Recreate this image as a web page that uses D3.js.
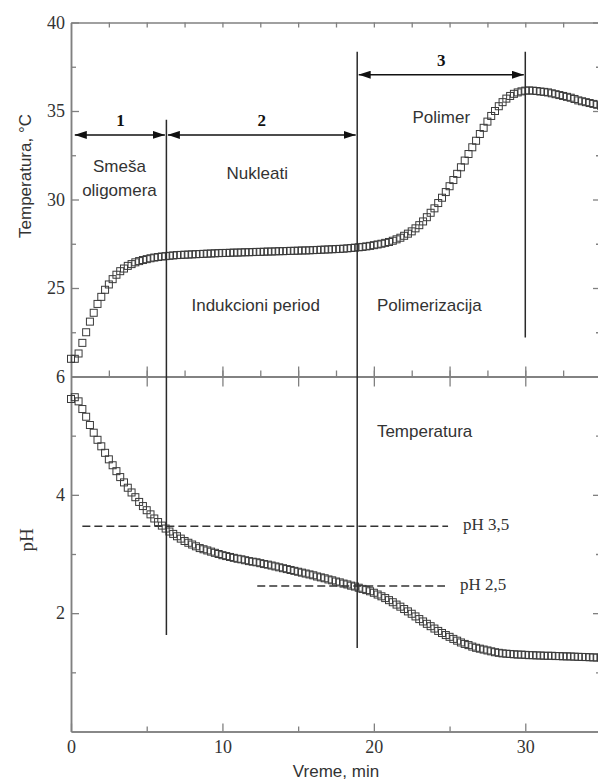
<!DOCTYPE html>
<html><head><meta charset="utf-8">
<script src="https://cdn.jsdelivr.net/npm/d3@7"></script>
<style>body{margin:0;background:#fff}</style>
</head><body><svg id="c" width="598" height="784"></svg>
<script>
// ---- data ----
const timeStep = 0.25; // minutes between samples, first sample at t = 0
const temperature = [
21.0,21.0,21.3,21.9,22.5,23.1,23.6,24.1,24.5,24.9,25.2,25.5,25.75,25.95,26.1,26.25,26.35,26.45,26.52,26.58,
26.63,26.68,26.72,26.75,26.78,26.8,26.82,26.84,26.86,26.87,26.88,26.89,26.9,26.91,26.92,26.93,26.94,26.95,26.96,26.97,
26.98,26.98,26.99,27.0,27.0,27.01,27.02,27.02,27.03,27.04,27.04,27.05,27.06,27.06,27.07,27.08,27.08,27.09,27.1,27.1,
27.11,27.12,27.12,27.13,27.14,27.15,27.16,27.17,27.18,27.19,27.2,27.21,27.22,27.24,27.26,27.28,27.3,27.32,27.35,27.38,
27.42,27.46,27.5,27.55,27.6,27.67,27.75,27.84,27.95,28.07,28.2,28.37,28.55,28.76,29.0,29.25,29.5,29.8,30.1,30.42,
30.75,31.1,31.45,31.82,32.2,32.57,32.95,33.32,33.7,34.05,34.4,34.72,35.0,35.27,35.5,35.7,35.85,35.97,36.05,36.11,
36.15,36.16,36.15,36.13,36.1,36.08,36.05,36.0,35.95,35.9,35.85,35.8,35.75,35.68,35.6,35.55,35.5,35.45,35.4,35.35,35.3];
const pH = [
5.62,5.65,5.58,5.45,5.32,5.18,5.05,4.93,4.82,4.71,4.6,4.5,4.4,4.3,4.21,4.12,4.04,3.96,3.88,3.81,
3.74,3.67,3.6,3.54,3.48,3.43,3.38,3.34,3.3,3.26,3.22,3.19,3.16,3.13,3.1,3.08,3.06,3.04,3.02,3.0,
2.98,2.965,2.95,2.935,2.92,2.91,2.895,2.88,2.87,2.86,2.845,2.83,2.82,2.805,2.79,2.775,2.76,2.745,2.73,2.715,
2.7,2.685,2.67,2.655,2.64,2.62,2.605,2.59,2.57,2.555,2.535,2.52,2.5,2.485,2.465,2.45,2.43,2.41,2.39,2.37,
2.345,2.315,2.285,2.255,2.22,2.185,2.145,2.11,2.07,2.03,1.99,1.945,1.9,1.86,1.82,1.78,1.74,1.7,1.665,1.63,
1.6,1.565,1.535,1.505,1.48,1.46,1.435,1.415,1.4,1.385,1.37,1.355,1.34,1.33,1.32,1.315,1.31,1.305,1.3,1.3,
1.295,1.29,1.29,1.285,1.285,1.28,1.28,1.28,1.275,1.275,1.27,1.27,1.268,1.265,1.262,1.26,1.258,1.255,1.252,1.25,1.25];

const timeLabels = [0, 10, 20, 30];
const timeMinor = [5, 15, 25, 35];
const timeFine = [2.5, 5, 7.5, 10, 12.5, 15, 17.5, 20, 22.5, 25, 27.5, 30, 32.5];
const tempLabels = [25, 30, 35, 40];
const tempMinor = [22.5, 27.5, 32.5, 37.5];
const phLabels = [2, 4, 6];
const phMinor = [1, 3, 5];

// phase boundaries: time, top (°C, upper panel) and bottom (value, panel)
const phaseTimes = [6.3, 18.9, 30.0];
const phaseTop = [34.5, 38.35, 38.35];
const phaseBottom = [{panel: "ph", v: 1.63}, {panel: "ph", v: 1.41}, {panel: "temp", v: 22.2}];
// interval arrows
const arrowNames = ["1", "2", "3"];
const arrowFrom = [0.25, 6.3, 18.9];
const arrowTo = [6.3, 18.9, 30.0];
const arrowLevel = [33.65, 33.65, 37.05];
// reference pH levels
const refNames = ["pH 3,5", "pH 2,5"];
const refLevel = [3.47, 2.46];
const refFrom = [0.75, 12.3];
const refTo = [24.9, 24.7];

// ---- drawing ----
const svg = d3.select("#c");
const x = d3.scaleLinear().domain([0, 35]).range([71, 601]);
const yT = d3.scaleLinear().domain([20, 40]).range([376.5, 22.5]);
const yP = d3.scaleLinear().domain([0, 6]).range([731.5, 376.5]);
const axisCol = "#808080", inkCol = "#2a2a2a", textCol = "#333";
const serif = "'Liberation Serif','Times New Roman',serif";
const sans = "'Liberation Sans',Arial,sans-serif";

function styleAxis(g, labels) {
  g.selectAll("path.domain").attr("stroke", axisCol).attr("stroke-width", 1.5);
  g.selectAll(".tick line").attr("stroke", axisCol).attr("stroke-width", 1.3);
  g.selectAll(".tick text").attr("fill", textCol).style("font-family", serif).style("font-size", "18px");
  if (!labels) g.selectAll(".tick text").remove();
}
function add(axis, tx, ty, labels) {
  const g = svg.append("g").attr("transform", `translate(${tx},${ty})`).call(axis);
  styleAxis(g, labels);
  return g;
}
// upper panel
add(d3.axisLeft(yT).tickValues(tempLabels).tickSize(-8).tickSizeOuter(0).tickPadding(6).tickFormat(d3.format("d")), 71, 0, true);
add(d3.axisLeft(yT).tickValues(tempMinor).tickSize(-5).tickSizeOuter(0), 71, 0, false);
add(d3.axisRight(yT).tickValues(tempLabels).tickSize(-8).tickSizeOuter(0), 601, 0, false);
add(d3.axisRight(yT).tickValues(tempMinor).tickSize(-5).tickSizeOuter(0), 601, 0, false);
add(d3.axisTop(x).tickValues(timeFine).tickSize(-5).tickSizeOuter(0), 0, yT(40), false);
add(d3.axisBottom(x).tickValues(timeFine).tickSize(-6).tickSizeOuter(0), 0, yT(20), false);
// lower panel
add(d3.axisLeft(yP).tickValues(phLabels).tickSize(-8).tickSizeOuter(0).tickPadding(6).tickFormat(d3.format("d")), 71, 0, true);
add(d3.axisLeft(yP).tickValues(phMinor).tickSize(-5).tickSizeOuter(0), 71, 0, false);
add(d3.axisRight(yP).tickValues(phLabels).tickSize(-8).tickSizeOuter(0), 601, 0, false);
add(d3.axisRight(yP).tickValues(phMinor).tickSize(-5).tickSizeOuter(0), 601, 0, false);
add(d3.axisTop(x).tickValues(timeFine.filter(d => d % 5 === 0)).tickSize(-10).tickSizeOuter(0), 0, yP(6), false);
add(d3.axisTop(x).tickValues(timeFine.filter(d => d % 5 === 0)).tickSize(10).tickSizeOuter(0), 0, yP(6), false);
add(d3.axisBottom(x).tickValues(timeLabels).tickSize(-8).tickSizeOuter(0).tickPadding(9), 0, yP(0), true);
add(d3.axisBottom(x).tickValues(timeMinor).tickSize(-5).tickSizeOuter(0), 0, yP(0), false);

// axis titles
svg.append("text").attr("transform", "translate(27,176) rotate(-90)").attr("text-anchor", "middle")
  .attr("dominant-baseline", "middle").style("font-family", sans).style("font-size", "17px").attr("fill", textCol)
  .text("Temperatura, °C");
svg.append("text").attr("transform", "translate(29,540) rotate(-90)").attr("text-anchor", "middle")
  .attr("dominant-baseline", "middle").style("font-family", serif).style("font-size", "19px").attr("fill", textCol)
  .text("pH");
svg.append("text").attr("x", (x.range()[0] + x.range()[1]) / 2).attr("y", 777).attr("text-anchor", "middle")
  .style("font-family", sans).style("font-size", "17px").attr("fill", textCol).text("Vreme, min");

// reference dashed pH levels
refNames.forEach((n, i) => {
  svg.append("line").attr("x1", x(refFrom[i])).attr("x2", x(refTo[i])).attr("y1", yP(refLevel[i])).attr("y2", yP(refLevel[i]))
    .attr("stroke", "#333").attr("stroke-width", 1.5).attr("stroke-dasharray", "8,4");
  svg.append("text").attr("x", x(refTo[i]) + 15).attr("y", yP(refLevel[i])).attr("dominant-baseline", "middle")
    .style("font-family", serif).style("font-size", "17px").attr("fill", textCol).text(n);
});

// data markers
svg.append("clipPath").attr("id", "pc").append("rect").attr("x", 60).attr("y", 0).attr("width", 541).attr("height", 784);
const s = 7;
function markers(vals, y) {
  svg.append("g").attr("clip-path", "url(#pc)").selectAll("rect").data(vals).join("rect")
    .attr("x", (d, i) => x(i * timeStep) - s / 2).attr("y", d => y(d) - s / 2)
    .attr("width", s).attr("height", s).attr("fill", "none").attr("stroke", "#3a3a3a").attr("stroke-width", 1);
}
markers(temperature, yT);
markers(pH, yP);

// phase boundary lines
phaseTimes.forEach((t, i) => {
  const b = phaseBottom[i];
  svg.append("line").attr("x1", x(t)).attr("x2", x(t)).attr("y1", yT(phaseTop[i]))
    .attr("y2", b.panel === "ph" ? yP(b.v) : yT(b.v)).attr("stroke", inkCol).attr("stroke-width", 1.5);
});

// arrows
const defs = svg.append("defs");
defs.append("marker").attr("id", "ah").attr("viewBox", "0 0 12 8").attr("refX", 12).attr("refY", 4)
  .attr("markerWidth", 12).attr("markerHeight", 8).attr("markerUnits", "userSpaceOnUse").attr("orient", "auto-start-reverse")
  .append("path").attr("d", "M0,0L12,4L0,8Z").attr("fill", "#111");
arrowNames.forEach((n, i) => {
  const y = yT(arrowLevel[i]);
  svg.append("line").attr("x1", x(arrowFrom[i]) + (i === 0 ? 0 : 1.5)).attr("x2", x(arrowTo[i]) - 1.5)
    .attr("y1", y).attr("y2", y).attr("stroke", "#111").attr("stroke-width", 1.5)
    .attr("marker-start", "url(#ah)").attr("marker-end", "url(#ah)");
  svg.append("text").attr("x", (x(arrowFrom[i]) + x(arrowTo[i])) / 2).attr("y", y - 13).attr("text-anchor", "middle")
    .attr("dominant-baseline", "middle").style("font-family", serif).style("font-weight", "bold").style("font-size", "17px")
    .attr("fill", "#111").text(n);
});

// region annotations
const notes = [
  {t: "Smeša", cx: 3.2, v: 31.8, panel: "temp", anchor: "middle"},
  {t: "oligomera", cx: 3.2, v: 30.45, panel: "temp", anchor: "middle"},
  {t: "Nukleati", cx: 12.3, v: 31.4, panel: "temp", anchor: "middle"},
  {t: "Polimer", cx: 24.45, v: 34.6, panel: "temp", anchor: "middle"},
  {t: "Indukcioni period", cx: 12.2, v: 23.95, panel: "temp", anchor: "middle"},
  {t: "Polimerizacija", cx: 20.2, v: 23.95, panel: "temp", anchor: "start"},
  {t: "Temperatura", cx: 20.2, v: 5.05, panel: "ph", anchor: "start"}
];
notes.forEach(n => {
  svg.append("text").attr("x", x(n.cx)).attr("y", n.panel === "temp" ? yT(n.v) : yP(n.v))
    .attr("text-anchor", n.anchor).attr("dominant-baseline", "middle")
    .style("font-family", sans).style("font-size", "17px").attr("fill", textCol).text(n.t);
});
</script></body></html>
